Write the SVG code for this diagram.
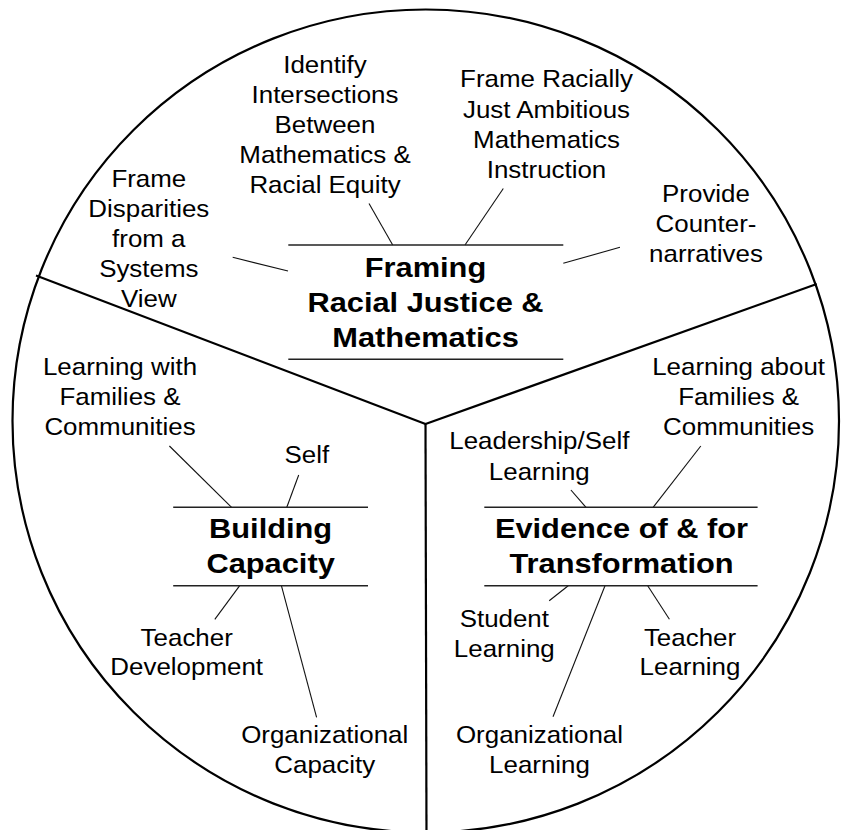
<svg xmlns="http://www.w3.org/2000/svg" width="844" height="830" viewBox="0 0 844 830">
  <style>
    .frame { fill: none; stroke: #000; stroke-width: 2.2; }
    .rule { stroke: #222; stroke-width: 1.4; }
    .lead { stroke: #111; stroke-width: 1.1; }
    .lbl { font-family: "Liberation Sans", Arial, sans-serif; font-size: 24px; text-anchor: middle; fill: #000; }
    .ttl { font-family: "Liberation Sans", Arial, sans-serif; font-size: 28px; font-weight: bold; text-anchor: middle; fill: #000; }
  </style>

  <rect width="844" height="830" fill="#fff"/>

  <!-- outer circle and the three sector dividers -->
  <g id="frame">
    <ellipse class="frame" cx="425.75" cy="421" rx="413.25" ry="411.5"/>
    <line class="frame" x1="425.5" y1="424" x2="36" y2="275.5"/>
    <line class="frame" x1="425.5" y1="424" x2="816.7" y2="284"/>
    <line class="frame" x1="425.5" y1="423" x2="426.5" y2="840"/>
  </g>

  <!-- leader lines from the sector titles to their topics -->
  <g id="connectors">
    <line class="lead" x1="392.7" y1="245" x2="369" y2="203.5"/>
    <line class="lead" x1="465" y1="245" x2="503.3" y2="188.5"/>
    <line class="lead" x1="288" y1="271" x2="232.7" y2="257.3"/>
    <line class="lead" x1="563.3" y1="263.3" x2="620" y2="247.3"/>

    <line class="lead" x1="231.6" y1="507.3" x2="169.4" y2="446"/>
    <line class="lead" x1="286.8" y1="507.3" x2="298.7" y2="475"/>
    <line class="lead" x1="239.7" y1="585.7" x2="214.8" y2="619.3"/>
    <line class="lead" x1="281.4" y1="585.7" x2="316.6" y2="717.3"/>

    <line class="lead" x1="586" y1="507.3" x2="570.9" y2="490"/>
    <line class="lead" x1="653.1" y1="507.3" x2="700.8" y2="446"/>
    <line class="lead" x1="568.2" y1="585.7" x2="549.2" y2="600.7"/>
    <line class="lead" x1="605" y1="585.7" x2="553" y2="716.7"/>
    <line class="lead" x1="647.7" y1="585.7" x2="669.4" y2="619.3"/>
  </g>

  <!-- sector titles -->
  <g id="framing">
    <line class="rule" x1="288.3" y1="245" x2="563.3" y2="245"/>
    <line class="rule" x1="288.3" y1="359.3" x2="563.3" y2="359.3"/>
    <g transform="translate(425.5 0) scale(1.1 1)">
      <text class="ttl"><tspan x="0" y="276.7">Framing</tspan><tspan x="0" y="311.7">Racial Justice &amp;</tspan><tspan x="0" y="346.7">Mathematics</tspan></text>
    </g>
  </g>

  <g id="building">
    <line class="rule" x1="173.2" y1="507.3" x2="368" y2="507.3"/>
    <line class="rule" x1="173.2" y1="585.7" x2="368" y2="585.7"/>
    <g transform="translate(270.6 0) scale(1.1 1)">
      <text class="ttl"><tspan x="0" y="538.3">Building</tspan><tspan x="0" y="573.3">Capacity</tspan></text>
    </g>
  </g>

  <g id="evidence">
    <line class="rule" x1="484.3" y1="507.3" x2="757.6" y2="507.3"/>
    <line class="rule" x1="484.3" y1="585.7" x2="757.6" y2="585.7"/>
    <g transform="translate(621.5 0) scale(1.1 1)">
      <text class="ttl"><tspan x="0" y="538.3">Evidence of &amp; for</tspan><tspan x="0" y="573.3">Transformation</tspan></text>
    </g>
  </g>

  <!-- topics: framing sector -->
  <g id="frame-disparities" transform="translate(148.8 0) scale(1.08 1)">
    <text class="lbl"><tspan x="0" y="186.7">Frame</tspan><tspan x="0" y="216.7">Disparities</tspan><tspan x="0" y="246.7">from a</tspan><tspan x="0" y="276.7">Systems</tspan><tspan x="0" y="306.7">View</tspan></text>
  </g>
  <g id="identify-intersections" transform="translate(325 0) scale(1.08 1)">
    <text class="lbl"><tspan x="0" y="73.3">Identify</tspan><tspan x="0" y="103.3">Intersections</tspan><tspan x="0" y="133.3">Between</tspan><tspan x="0" y="163.3">Mathematics &amp;</tspan><tspan x="0" y="193.3">Racial Equity</tspan></text>
  </g>
  <g id="ambitious-instruction" transform="translate(546.5 0) scale(1.08 1)">
    <text class="lbl"><tspan x="0" y="87.3">Frame Racially</tspan><tspan x="0" y="117.6">Just Ambitious</tspan><tspan x="0" y="147.9">Mathematics</tspan><tspan x="0" y="178.3">Instruction</tspan></text>
  </g>
  <g id="counter-narratives" transform="translate(706 0) scale(1.08 1)">
    <text class="lbl"><tspan x="0" y="202">Provide</tspan><tspan x="0" y="232">Counter-</tspan><tspan x="0" y="262">narratives</tspan></text>
  </g>

  <!-- topics: building capacity sector -->
  <g id="learning-with-families" transform="translate(120 0) scale(1.08 1)">
    <text class="lbl"><tspan x="0" y="375">Learning with</tspan><tspan x="0" y="405">Families &amp;</tspan><tspan x="0" y="435">Communities</tspan></text>
  </g>
  <g id="self" transform="translate(306.8 0) scale(1.08 1)">
    <text class="lbl" x="0" y="463.3">Self</text>
  </g>
  <g id="teacher-development" transform="translate(186.7 0) scale(1.08 1)">
    <text class="lbl"><tspan x="0" y="646">Teacher</tspan><tspan x="0" y="675">Development</tspan></text>
  </g>
  <g id="organizational-capacity" transform="translate(324.7 0) scale(1.08 1)">
    <text class="lbl"><tspan x="0" y="743.3">Organizational</tspan><tspan x="0" y="773.3">Capacity</tspan></text>
  </g>

  <!-- topics: evidence sector -->
  <g id="learning-about-families" transform="translate(738.6 0) scale(1.08 1)">
    <text class="lbl"><tspan x="0" y="375">Learning about</tspan><tspan x="0" y="405">Families &amp;</tspan><tspan x="0" y="435">Communities</tspan></text>
  </g>
  <g id="leadership-learning" transform="translate(539.3 0) scale(1.08 1)">
    <text class="lbl"><tspan x="0" y="449.3">Leadership/Self</tspan><tspan x="0" y="480">Learning</tspan></text>
  </g>
  <g id="student-learning" transform="translate(504.3 0) scale(1.08 1)">
    <text class="lbl"><tspan x="0" y="627.3">Student</tspan><tspan x="0" y="657.3">Learning</tspan></text>
  </g>
  <g id="teacher-learning" transform="translate(690 0) scale(1.08 1)">
    <text class="lbl"><tspan x="0" y="646">Teacher</tspan><tspan x="0" y="675">Learning</tspan></text>
  </g>
  <g id="organizational-learning" transform="translate(539.5 0) scale(1.08 1)">
    <text class="lbl"><tspan x="0" y="743.3">Organizational</tspan><tspan x="0" y="773.3">Learning</tspan></text>
  </g>
</svg>
